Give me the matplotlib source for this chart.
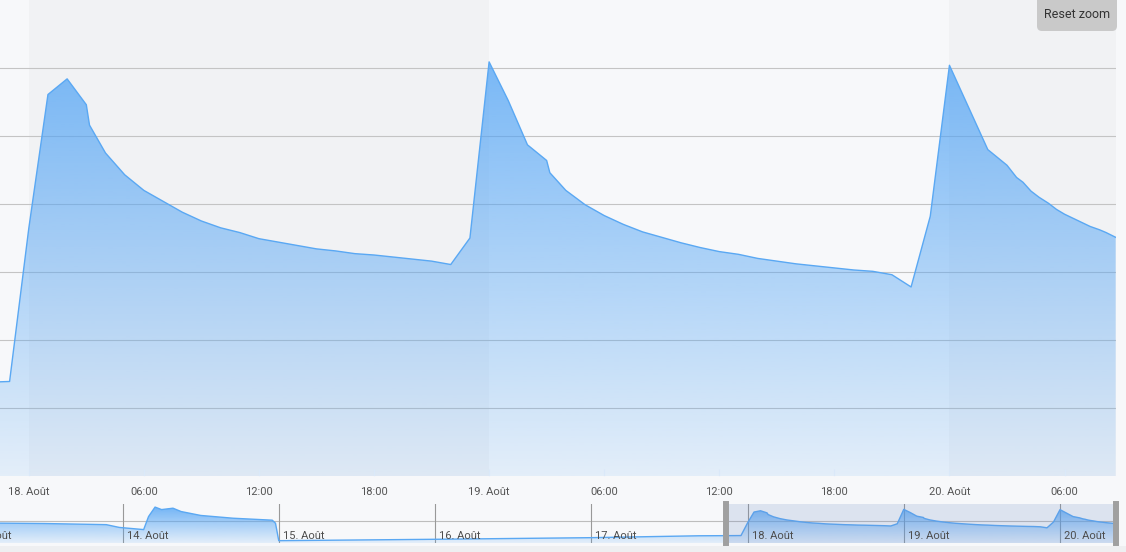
import numpy as np
import pandas as pd
import matplotlib
matplotlib.use("Agg")
import matplotlib.pyplot as plt
import matplotlib.dates as mdates
from matplotlib.patches import Polygon, FancyBboxPatch, Rectangle
from matplotlib.transforms import IdentityTransform

# ---------------- data ----------------
main_times = [
    "2023-08-17 22:00", "2023-08-17 23:00",
    "2023-08-18 00:00", "2023-08-18 01:00", "2023-08-18 02:00", "2023-08-18 03:00", "2023-08-18 03:10",
    "2023-08-18 04:00", "2023-08-18 05:00", "2023-08-18 06:00", "2023-08-18 07:00", "2023-08-18 08:00",
    "2023-08-18 09:00", "2023-08-18 10:00", "2023-08-18 11:00", "2023-08-18 12:00", "2023-08-18 13:00",
    "2023-08-18 14:00", "2023-08-18 15:00", "2023-08-18 16:00", "2023-08-18 17:00", "2023-08-18 18:00",
    "2023-08-18 19:00", "2023-08-18 20:00", "2023-08-18 21:00", "2023-08-18 22:00", "2023-08-18 23:00",
    "2023-08-19 00:00", "2023-08-19 01:00", "2023-08-19 02:00", "2023-08-19 03:00", "2023-08-19 03:10",
    "2023-08-19 04:00", "2023-08-19 05:00", "2023-08-19 06:00", "2023-08-19 07:00", "2023-08-19 08:00",
    "2023-08-19 09:00", "2023-08-19 10:00", "2023-08-19 11:00", "2023-08-19 12:00", "2023-08-19 13:00",
    "2023-08-19 14:00", "2023-08-19 15:00", "2023-08-19 16:00", "2023-08-19 17:00", "2023-08-19 18:00",
    "2023-08-19 19:00", "2023-08-19 20:00", "2023-08-19 21:00", "2023-08-19 22:00", "2023-08-19 23:00",
    "2023-08-20 00:00", "2023-08-20 01:00", "2023-08-20 02:00", "2023-08-20 03:00", "2023-08-20 03:30",
    "2023-08-20 03:50", "2023-08-20 04:15", "2023-08-20 04:40", "2023-08-20 05:10", "2023-08-20 05:35",
    "2023-08-20 06:00", "2023-08-20 06:40", "2023-08-20 07:20", "2023-08-20 07:50", "2023-08-20 08:10",
    "2023-08-20 08:40",
]
main_values = [
    1.38, 1.39,
    3.64, 5.61, 5.84, 5.46, 5.16,
    4.75, 4.43, 4.20, 4.04, 3.88,
    3.75, 3.65, 3.58, 3.49, 3.44,
    3.39, 3.34, 3.31, 3.27, 3.25,
    3.22, 3.19, 3.16, 3.11, 3.50,
    6.09, 5.52, 4.87, 4.64, 4.46,
    4.20, 3.99, 3.83, 3.70, 3.59,
    3.51, 3.43, 3.36, 3.30, 3.26,
    3.20, 3.16, 3.12, 3.09, 3.06,
    3.03, 3.01, 2.96, 2.78, 3.82,
    6.04, 5.42, 4.80, 4.57, 4.39,
    4.32, 4.19, 4.10, 4.01, 3.92,
    3.85, 3.76, 3.67, 3.62, 3.58,
    3.51,
]

# earlier history only visible in the navigator
history_times = [
    "2023-08-13 05:00", "2023-08-13 12:00", "2023-08-13 21:30", "2023-08-13 23:30",
    "2023-08-14 03:15", "2023-08-14 04:00", "2023-08-14 05:00", "2023-08-14 06:00",
    "2023-08-14 07:45", "2023-08-14 09:00", "2023-08-14 12:00", "2023-08-14 17:00",
    "2023-08-14 23:00", "2023-08-14 23:30", "2023-08-15 00:00", "2023-08-16 00:00",
    "2023-08-17 00:00", "2023-08-17 16:30",
]
history_values = [
    3.62, 3.55, 3.35, 2.85,
    2.46, 4.80, 6.50, 6.05,
    6.30, 5.70, 5.00, 4.50,
    4.15, 3.60, 0.47, 0.72,
    1.01, 1.35,
]

main_tick_times = ["2023-08-18 00:00", "2023-08-18 06:00", "2023-08-18 12:00", "2023-08-18 18:00",
                   "2023-08-19 00:00", "2023-08-19 06:00", "2023-08-19 12:00", "2023-08-19 18:00",
                   "2023-08-20 00:00", "2023-08-20 06:00"]
main_tick_labels = ["18. Août", "06:00", "12:00", "18:00", "19. Août", "06:00", "12:00", "18:00",
                    "20. Août", "06:00"]
nav_tick_times = ["2023-08-13", "2023-08-14", "2023-08-15", "2023-08-16", "2023-08-17",
                  "2023-08-18", "2023-08-19", "2023-08-20"]
nav_tick_labels = ["13. Août", "14. Août", "15. Août", "16. Août", "17. Août",
                   "18. Août", "19. Août", "20. Août"]
day_bands = [("2023-08-18", "2023-08-19"), ("2023-08-20", "2023-08-21")]

main_range = ("2023-08-17 22:30", "2023-08-20 08:41")
nav_range = ("2023-08-13 05:11", "2023-08-20 08:36")
selection_start = "2023-08-17 20:40"

# ---------------- helpers ----------------
def num(lst):
    return mdates.date2num(pd.to_datetime(lst))

W, H = 1126, 552
BG = "#f7f8fa"
BAND = "#f1f2f4"
LINE = "#5aa8f3"
plt.rcParams["font.family"] = ["Roboto", "DejaVu Sans"]

fig = plt.figure(figsize=(W / 100, H / 100), dpi=100, facecolor=BG)

def gradient_fill(ax, x, y, ymax, a_top, a_bot):
    verts = np.column_stack([np.r_[x[0], x, x[-1]], np.r_[0, y, 0]])
    poly = Polygon(verts, closed=True, facecolor="none", edgecolor="none")
    ax.add_patch(poly)
    n = 256
    grad = np.zeros((n, 1, 4))
    base = np.array([80, 163, 245]) / 255.0
    grad[:, 0, :3] = base
    grad[:, 0, 3] = np.linspace(a_top, a_bot, n)
    x0, x1 = ax.get_xlim()
    im = ax.imshow(grad, extent=(x0, x1, 0, ymax), origin="upper", aspect="auto",
                   interpolation="bilinear", zorder=2)
    im.set_clip_path(poly)

# ---------------- main chart ----------------
px_top, px_bot = 0.0, 476.0
ax = fig.add_axes([0, (H - px_bot) / H, 1116 / W, (px_bot - px_top) / H])
ax.set_facecolor(BG)
mx = num(main_times)
my = np.array(main_values)
ax.set_xlim(*num(list(main_range)))
ax.set_ylim(0, 7)
for a, b in day_bands:
    s, e = num([a, b])
    ax.axvspan(s, e, color=BAND, lw=0, zorder=0)
for v in range(1, 7):
    ax.axhline(v, color="#c4c4c4", lw=0.8, zorder=1)
gradient_fill(ax, mx, my, 7, 0.85, 0.12)
ax.plot(mx, my, color=LINE, lw=1.0, zorder=3)
for s in ax.spines.values():
    s.set_visible(False)
ax.set_yticks([])
ax.set_xticks(num(main_tick_times))
ax.set_xticklabels(main_tick_labels, fontsize=8, color="#555555")
ax.tick_params(axis="x", direction="in", length=5, width=0.8, color="#eef3fa", pad=8)
ax.set_xlim(*num(list(main_range)))

# ---------------- navigator ----------------
nav_top, nav_bot = 504.3, 543.3
nax = fig.add_axes([0, (H - nav_bot) / H, 1116 / W, (nav_bot - nav_top) / H])
nax.set_facecolor(BG)
nx = np.r_[num(history_times), mx]
ny = np.r_[history_values, main_values]
nax.set_xlim(*num(list(nav_range)))
nax.set_ylim(0, 7)
nax.axhline(4, color="#bdbdbd", lw=0.8, zorder=1)
for t, lab in zip(num(nav_tick_times), nav_tick_labels):
    nax.axvline(t, color="#999999", lw=0.8, zorder=1)
    nax.annotate(lab, (t, 0), xycoords=("data", "axes fraction"), xytext=(4, 2),
                 textcoords="offset pixels", fontsize=8, color="#4d4d4d",
                 ha="left", va="bottom", zorder=5, annotation_clip=False)
gradient_fill(nax, nx, ny, 7, 0.85, 0.12)
nax.plot(nx, ny, color=LINE, lw=1.0, zorder=3)
sel0 = num([selection_start])[0]
sel1 = nax.get_xlim()[1]
nax.axvspan(sel0, sel1, color=(102 / 255, 133 / 255, 194 / 255), alpha=0.18, lw=0, zorder=4)
for t in (sel0, sel1):
    nax.axvline(t, color="#a0a0a0", lw=4.3, zorder=6, clip_on=False)
for s in nax.spines.values():
    s.set_visible(False)
nax.set_xticks([])
nax.set_yticks([])
nax.set_xlim(*num(list(nav_range)))

# scrollbar strip under the navigator
fig.add_artist(Rectangle((0, 0), W, H - 546, transform=IdentityTransform(),
                         facecolor="#eeeff1", edgecolor="none"))

# ---------------- reset zoom button ----------------
btn = FancyBboxPatch((1037, H - 31), 80, 38, boxstyle="round,pad=0,rounding_size=5",
                     transform=IdentityTransform(), facecolor="#c9c9c9", edgecolor="none")
fig.add_artist(btn)
fig.text(1077 / W, (H - 15) / H, "Reset zoom", fontsize=9, color="#333333",
         ha="center", va="center")

fig.savefig("out.png", dpi=100, facecolor=BG)
